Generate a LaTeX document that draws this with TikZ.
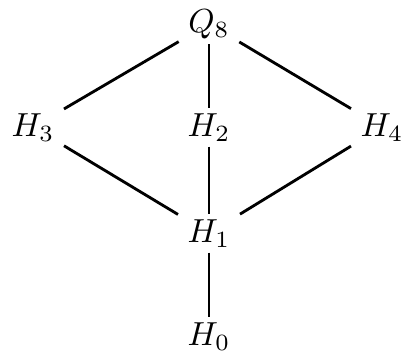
\documentclass[tikz,border=0pt]{standalone}
\begin{document}
\begin{tikzpicture}[x=0.3pt,y=-0.3pt,
  grp/.style={inner xsep=2.7pt, inner ysep=1.5pt, anchor=base},
  edge/.style={line width=0.85pt}]
\useasboundingbox (0,0) rectangle (402,352);
\node[grp] (Q8) at (209,32) {$Q_8$};
\node[grp] (H3) at (33,136) {$H_3$};
\node[grp] (H2) at (209,136) {$H_2$};
\node[grp] (H4) at (382,136) {$H_4$};
\node[grp] (H1) at (209,242) {$H_1$};
\node[grp] (H0) at (209,345) {$H_0$};
\draw[edge] (Q8) -- (H3);
\draw[edge] (Q8) -- (H2);
\draw[edge] (Q8) -- (H4);
\draw[edge] (H3) -- (H1);
\draw[edge] (H2) -- (H1);
\draw[edge] (H4) -- (H1);
\draw[edge] (H1) -- (H0);
\end{tikzpicture}
\end{document}
